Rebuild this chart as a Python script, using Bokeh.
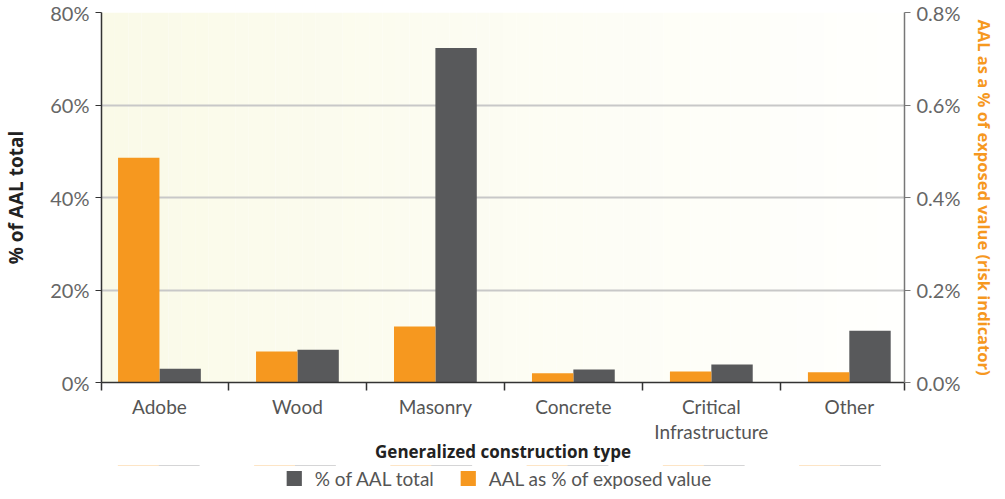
import numpy as np
from bokeh.plotting import figure
from bokeh.layouts import column
from bokeh.models import (Range1d, LinearAxis, FixedTicker, PrintfTickFormatter,
                          Legend, LegendItem, ColumnDataSource)
from bokeh.embed import file_html
from bokeh.resources import INLINE

categories = ["Adobe", "Wood", "Masonry", "Concrete", "Critical\nInfrastructure", "Other"]
aal_total_pct = [3.0, 7.1, 72.3, 2.8, 3.9, 11.2]          # left axis, % of AAL total
aal_exposed_pct = [0.486, 0.067, 0.121, 0.020, 0.024, 0.022]  # right axis, AAL as % of exposed value
left_ticks = [0, 20, 40, 60, 80]
right_ticks = [0.0, 0.2, 0.4, 0.6, 0.8]
series_names = ["% of AAL total", "AAL as % of exposed value"]

GRAY = "#58595B"
ORANGE = "#F6981F"
FONT = "Lato"
TITLE_FONT = "Open Sans"

x_start, x_end = -0.42, 5.40
xpos = np.arange(len(categories))

src = ColumnDataSource(dict(
    x_gray=xpos + 0.15, x_orange=xpos - 0.15,
    total=aal_total_pct, exposed=aal_exposed_pct,
))

p = figure(frame_width=803, frame_height=370,
           output_backend="svg", toolbar_location=None,
           x_range=Range1d(x_start, x_end), y_range=Range1d(0, 80),
           min_border_left=92, min_border_right=0, min_border_top=12, min_border_bottom=0)
p.extra_y_ranges = {"right": Range1d(0, 0.8)}
p.outline_line_color = None
p.background_fill_color = "white"
p.border_fill_color = "white"

# background gradient (style only)
n = 60
edges = np.linspace(x_start, x_end, n + 1)
c0 = np.array([250, 250, 232]); c1 = np.array([255, 255, 253])
cols = ["#%02x%02x%02x" % tuple(int(round(v)) for v in c0 + (c1 - c0) * (i / (n - 1))) for i in range(n)]
bg = p.quad(left=edges[:-1], right=edges[1:], bottom=0, top=80, fill_color=cols, line_color=None)
bg.level = "image"

# grid
p.xgrid.visible = False
p.ygrid.ticker = FixedTicker(ticks=left_ticks)
p.ygrid.grid_line_color = "#C8C8C8"
p.ygrid.grid_line_width = 2
p.ygrid.level = "underlay"

rg = p.vbar(x="x_gray", top="total", width=0.3, source=src, fill_color=GRAY, line_color=None)
ro = p.vbar(x="x_orange", top="exposed", width=0.3, source=src, fill_color=ORANGE, line_color=None,
            y_range_name="right")

# x axis
xa = p.xaxis[0]
xa.ticker = FixedTicker(ticks=list(xpos), minor_ticks=[x_start + 0.001, 0.5, 1.5, 2.5, 3.5, 4.5, x_end - 0.001])
xa.major_label_overrides = {int(i): c for i, c in zip(xpos, categories)}
xa.major_tick_out = 0
xa.major_tick_in = 0
xa.minor_tick_out = 8
xa.minor_tick_in = 0
xa.minor_tick_line_color = "#333333"
xa.minor_tick_line_width = 1.5
xa.axis_line_color = "#333333"
xa.axis_line_width = 1.5
xa.major_label_text_font = FONT
xa.major_label_text_font_size = "19px"
xa.major_label_text_color = "#555555"
xa.major_label_text_line_height = 1.1
xa.major_label_standoff = 4
xa.axis_label = "Generalized construction type"
xa.axis_label_text_font = TITLE_FONT
xa.axis_label_text_font_size = "17px"
xa.axis_label_text_font_style = "bold"
xa.axis_label_text_color = "#222222"
xa.axis_label_standoff = -6

# left axis
ya = p.yaxis[0]
ya.ticker = FixedTicker(ticks=left_ticks)
ya.formatter = PrintfTickFormatter(format="%d%%")
ya.major_tick_out = 6
ya.major_tick_in = 0
ya.minor_tick_line_color = None
ya.axis_line_color = "#333333"
ya.axis_line_width = 1.5
ya.major_tick_line_color = "#333333"
ya.major_label_text_font = FONT
ya.major_label_text_font_size = "20px"
ya.major_label_text_color = "#666666"
ya.major_label_standoff = 6
ya.axis_label = "% of AAL total"
ya.axis_label_text_font = TITLE_FONT
ya.axis_label_text_font_size = "19px"
ya.axis_label_text_font_style = "bold"
ya.axis_label_text_color = "#222222"
ya.axis_label_standoff = 18

# right axis
ra = LinearAxis(y_range_name="right", ticker=FixedTicker(ticks=right_ticks),
                formatter=PrintfTickFormatter(format="%.1f%%"))
ra.major_tick_out = 6
ra.major_tick_in = 0
ra.minor_tick_line_color = None
ra.axis_line_color = "#777777"
ra.axis_line_width = 1.5
ra.major_tick_line_color = "#777777"
ra.major_label_text_font = FONT
ra.major_label_text_font_size = "20px"
ra.major_label_text_color = "#666666"
ra.major_label_standoff = 6
ra.axis_label = "AAL as a % of exposed value (risk indicator)"
ra.axis_label_text_font = TITLE_FONT
ra.axis_label_text_font_size = "16.5px"
ra.axis_label_text_font_style = "bold"
ra.axis_label_text_color = ORANGE
ra.axis_label_standoff = 10
p.add_layout(ra, "right")

# legend in its own strip below the chart; proxy bars sit outside the strip's visible range
lg = figure(width=989, height=26, output_backend="svg", toolbar_location=None,
            x_range=Range1d(x_start, x_end), y_range=Range1d(-20, -10),
            min_border_left=0, min_border_right=0, min_border_top=0, min_border_bottom=0)
lg.axis.visible = False
lg.grid.visible = False
lg.outline_line_color = None
lg.background_fill_color = "white"
lg.border_fill_color = "white"
lr_gray = lg.vbar(x="x_gray", top="total", width=0.3, source=src, fill_color=GRAY, line_color=None)
lr_orange = lg.vbar(x="x_orange", top="total", width=0.3, source=src, fill_color=ORANGE, line_color=None)

legend = Legend(items=[LegendItem(label=series_names[0], renderers=[lr_gray], index=0),
                       LegendItem(label=series_names[1], renderers=[lr_orange], index=0)],
                orientation="horizontal", location="center")
legend.label_text_font = FONT
legend.label_text_font_size = "19px"
legend.label_text_color = "#555555"
legend.glyph_width = 19
legend.glyph_height = 19
legend.label_height = 19
legend.label_standoff = 12
legend.spacing = 24
legend.border_line_color = None
legend.background_fill_alpha = 0
legend.padding = 0
legend.margin = 0
lg.add_layout(legend, "center")

layout = column(p, lg, spacing=0)
open("out.html", "w").write(file_html(layout, INLINE))
